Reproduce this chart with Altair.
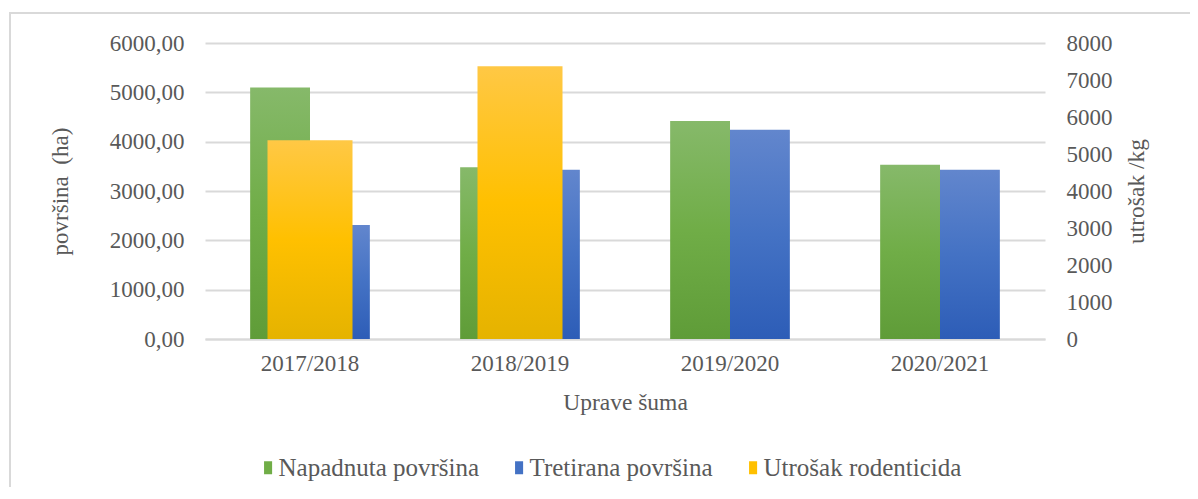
import altair as alt
import pandas as pd

years = ["2017/2018", "2018/2019", "2019/2020", "2020/2021"]
napadnuta = [5100, 3480, 4420, 3530]
tretirana = [2310, 3430, 4240, 3430]
utrosak = [5370, 7370, 0, 0]
series_names = ["Napadnuta površina", "Tretirana površina", "Utrošak rodenticida"]
base_colors = ["#70AD47", "#4472C4", "#FFC000"]
left_ticks = [0, 1000, 2000, 3000, 4000, 5000, 6000]
right_ticks = [0, 1000, 2000, 3000, 4000, 5000, 6000, 7000, 8000]

area_df = pd.DataFrame({
    "year": years * 2,
    "series": [series_names[0]] * 4 + [series_names[1]] * 4,
    "value": napadnuta + tretirana,
})
rod_df = pd.DataFrame({"year": years, "series": series_names[2], "value": utrosak})
legend_df = pd.DataFrame({"year": [years[0]] * 3, "series": series_names, "value": [0, 0, 0]})
frame_df = pd.DataFrame({"v": [1]})

FONT = "Liberation Serif"
TXT = "#595959"
GRID = "#d9d9d9"
FS = 23


def grad(top, mid, bot):
    return alt.LinearGradient(
        gradient="linear", x1=0, y1=0, x2=0, y2=1,
        stops=[alt.GradientStop(color=top, offset=0),
               alt.GradientStop(color=mid, offset=0.5),
               alt.GradientStop(color=bot, offset=1)],
    )


x_enc = alt.X(
    "year:N", sort=years,
    scale=alt.Scale(paddingInner=0.43, paddingOuter=0.215),
    axis=alt.Axis(title="Uprave šuma", labelAngle=0, labelFont=FONT, labelFontSize=FS,
                  labelColor=TXT, titleFont=FONT, titleFontSize=23.5, titleColor=TXT,
                  titleFontWeight="normal", ticks=False, domainColor=GRID, domainWidth=2,
                  labelPadding=13, titlePadding=15, grid=False),
)
y_left = alt.Y(
    "value:Q", scale=alt.Scale(domain=[0, 6000]),
    axis=alt.Axis(title="površina\u00a0\u00a0(ha)", values=left_ticks,
                  labelExpr="replace(format(datum.value, '.2f'), '.', ',')",
                  labelFont=FONT, labelFontSize=FS, labelColor=TXT, titleFont=FONT,
                  titleFontSize=23, titleColor=TXT, titleFontWeight="normal",
                  ticks=False, domain=False, grid=True, gridColor=GRID, gridWidth=2,
                  labelPadding=21, titlePadding=37),
)
y_right = alt.Y(
    "value:Q", scale=alt.Scale(domain=[0, 8000]),
    axis=alt.Axis(title="utrošak /kg", orient="right", values=right_ticks, format="d",
                  labelFont=FONT, labelFontSize=FS, labelColor=TXT, titleFont=FONT,
                  titleFontSize=23.5, titleColor=TXT, titleFontWeight="normal", titleAngle=270,
                  ticks=False, domain=False, grid=False, labelPadding=21, titlePadding=36),
)
xoff = alt.XOffset("series:N", scale=alt.Scale(domain=series_names[:2], paddingInner=0, paddingOuter=0))

green = alt.Chart(area_df).transform_filter(alt.datum.series == series_names[0]).mark_bar(
    color=grad("#86b96a", "#70ad47", "#5f9c38")
).encode(x=x_enc, xOffset=xoff, y=y_left)

blue = alt.Chart(area_df).transform_filter(alt.datum.series == series_names[1]).mark_bar(
    color=grad("#6286cd", "#4472c4", "#2d5db7")
).encode(x=x_enc, xOffset=xoff, y=y_left)

legend_layer = alt.Chart(legend_df).mark_bar(opacity=0).encode(
    x=x_enc, y=y_left,
    color=alt.Color("series:N", scale=alt.Scale(domain=series_names, range=base_colors),
                    legend=alt.Legend(title=None, orient="none", direction="horizontal",
                                      legendX=48.5, legendY=412, symbolOpacity=1,
                                      symbolType="M-0.3,-1H0.94V1H-0.3Z", symbolSize=169,
                                      symbolStrokeWidth=0, labelFont=FONT, labelFontSize=25,
                                      labelColor=TXT, labelOffset=0, columnPadding=25,
                                      labelLimit=400)),
)

yellow = alt.Chart(rod_df).mark_bar(
    width=85, color=grad("#ffc845", "#ffc000", "#e5b300")
).encode(x=x_enc, y=y_right)

frame = alt.Chart(frame_df).mark_rect(fill=None, stroke=GRID, strokeWidth=2).encode(
    x=alt.value(-195), x2=alt.value(1020), y=alt.value(-30), y2=alt.value(480)
)

left_group = alt.layer(frame, green, blue, legend_layer)
chart = alt.layer(left_group, yellow).resolve_scale(y="independent").properties(
    width=840, height=296,
    autosize=alt.AutoSizeParams(type="none"),
    padding={"left": 197, "top": 35, "right": 145, "bottom": 148},
).configure_view(stroke=None).configure_legend(
    labelFont=FONT, labelFontSize=25, labelColor=TXT, symbolOpacity=1
)

chart.save("out.html", embed_options={"renderer": "svg", "actions": False})
